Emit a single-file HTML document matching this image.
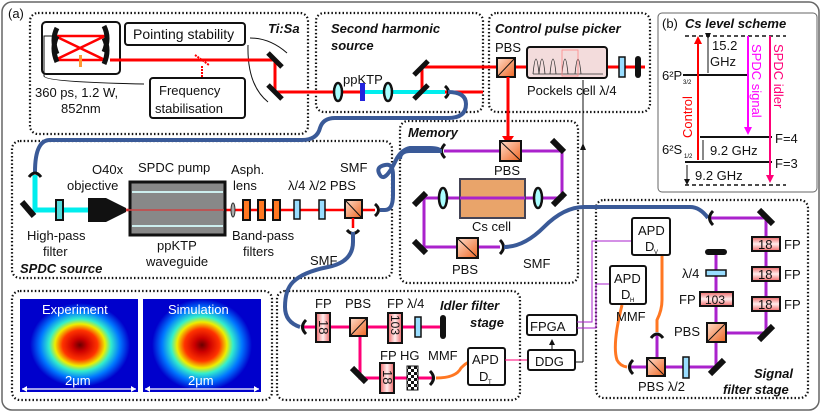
<!DOCTYPE html>
<html><head><meta charset="utf-8"><style>
body{margin:0;background:#fff}
svg{display:block;font-family:"Liberation Sans",sans-serif}
.t{font-size:13px;fill:#111}
.bi{font-size:13px;font-weight:bold;font-style:italic;fill:#111}
.dot{fill:none;stroke:#111;stroke-width:2.2;stroke-dasharray:1.5 2.2}
.box{fill:#fff;stroke:#111;stroke-width:2}
</style></head><body>
<svg width="822" height="413" viewBox="0 0 822 413" xmlns="http://www.w3.org/2000/svg">
<defs>
<radialGradient id="hm" cx="50%" cy="50%" r="50%">
<stop offset="0" stop-color="#6a0000"/><stop offset="0.15" stop-color="#c00"/><stop offset="0.35" stop-color="#f30"/><stop offset="0.5" stop-color="#ee0"/><stop offset="0.62" stop-color="#3ec"/><stop offset="0.8" stop-color="#07f"/><stop offset="1" stop-color="#00c"/>
</radialGradient>
<linearGradient id="or" x1="0" y1="0" x2="1" y2="1"><stop offset="0" stop-color="#fdc"/><stop offset="1" stop-color="#e62"/></linearGradient>
<linearGradient id="fp" x1="0" y1="0" x2="0" y2="1"><stop offset="0" stop-color="#e66"/><stop offset="0.5" stop-color="#fee"/><stop offset="1" stop-color="#e66"/></linearGradient>
<linearGradient id="fpv" x1="0" y1="0" x2="1" y2="0"><stop offset="0" stop-color="#e66"/><stop offset="0.5" stop-color="#fee"/><stop offset="1" stop-color="#e66"/></linearGradient>
<pattern id="chk" width="6" height="6" patternUnits="userSpaceOnUse"><rect width="6" height="6" fill="#fff"/><rect width="3" height="3" fill="#111"/><rect x="3" y="3" width="3" height="3" fill="#111"/></pattern>
<marker id="ar" markerWidth="6" markerHeight="6" refX="5" refY="3" orient="auto"><path d="M0,0L6,3L0,6z" fill="#111"/></marker>
</defs>
<rect x="2" y="2" width="817" height="408" rx="10" fill="#fff" stroke="#666" stroke-width="1.5"/>
<text x="8" y="18" class="t">(a)</text>

<!-- dotted boxes -->
<rect x="30" y="13" width="278" height="121" rx="8" class="dot"/>
<rect x="316" y="13" width="167" height="99" rx="8" class="dot"/>
<rect x="489" y="13" width="161" height="99" rx="8" class="dot"/>
<rect x="12" y="141" width="380" height="137" rx="8" class="dot"/>
<rect x="400" y="121" width="178" height="162" rx="8" class="dot"/>
<rect x="596" y="200" width="212" height="198" rx="8" class="dot"/>
<rect x="277" y="291" width="243" height="109" rx="8" class="dot"/>
<rect x="12" y="291" width="260" height="109" rx="8" class="dot"/>

<!-- Ti:Sa -->
<rect x="42" y="22" width="78" height="52" rx="4" class="box"/>
<path d="M55,36H105M55,60H105M55,36L105,60M55,60L105,36" stroke="#f00" stroke-width="2.5" fill="none"/>
<rect x="79" y="55" width="3" height="12" fill="#f93"/>
<path d="M57,28q-6,12 0,26M57,36q-6,12 0,26M104,26q6,12 0,26M104,38q6,12 0,26" stroke="#111" stroke-width="5" fill="none"/>
<rect x="125" y="23" width="120" height="22" rx="3" class="box"/>
<text x="133" y="39" class="t" style="font-size:14px">Pointing stability</text>
<rect x="150" y="78" width="95" height="40" rx="3" class="box"/>
<text x="159" y="95" class="t">Frequency</text><text x="155" y="113" class="t">stabilisation</text>
<text x="35" y="97" class="t">360 ps, 1.2 W,</text><text x="61" y="113" class="t">852nm</text>
<text x="268" y="33" class="bi">Ti:Sa</text>
<path d="M54,36h-10v40q0,6 100,8M250,38q20,0 37,15M248,45q-1,40 20,57" stroke="#111" fill="none" stroke-width="1"/>
<path d="M110,60H275V92H483" stroke="#f00" stroke-width="3" fill="none"/>
<path d="M195,55l14,10M202,66v12" stroke="#f00" stroke-width="2" stroke-dasharray="2 1" fill="none"/>
<g stroke="#111" stroke-width="5"><path d="M268,53l14,14M268,85l14,14"/></g>

<!-- SH -->
<text x="331" y="33" class="bi">Second harmonic</text><text x="331" y="50" class="bi">source</text>
<text x="343" y="84" class="t">ppKTP</text>
<path d="M365,92H445" stroke="#0ee" stroke-width="4"/>
<ellipse cx="338" cy="92" rx="4" ry="9" fill="#aff" stroke="#111" stroke-width="2.5"/>
<ellipse cx="388" cy="92" rx="4" ry="9" fill="#aff" stroke="#111" stroke-width="2.5"/>
<rect x="360" y="83" width="5" height="18" fill="#22d"/>
<path d="M422,92V67H507" stroke="#f00" stroke-width="3" fill="none"/>
<g stroke="#111" stroke-width="5"><path d="M414,75l14,-14M414,99l14,-14"/></g>
<path d="M445,86q7,6 0,12" stroke="#111" stroke-width="3" fill="none"/>
<path d="M448,92q18,0 18,12q0,14 -18,14H335q-12,0 -15,10q-3,12 -18,12H50q-15,0 -15,32" stroke="#3a5a98" stroke-width="4" fill="none"/>

<!-- Control pulse picker -->
<text x="495" y="33" class="bi">Control pulse picker</text>
<text x="495" y="52" class="t">PBS</text>
<path d="M515,67H645" stroke="#f00" stroke-width="3"/>
<rect x="497" y="58" width="18" height="19" fill="url(#or)" stroke="#111" stroke-width="2"/><path d="M497,77L515,58" stroke="#111"/>
<rect x="527" y="47" width="80" height="31" rx="3" fill="#f3dcdc" stroke="#111" stroke-width="2"/>
<path d="M533,74q3,-30 6,0q3,-30 6,0M550,74q3,-30 6,0M562,74q3,-30 6,0M575,74q3,-30 6,0M533,74H603" stroke="#333" fill="none" stroke-width="0.8"/>
<rect x="562" y="50" width="16" height="26" fill="none" stroke="#f88" stroke-width="0.8"/>
<text x="527" y="95" class="t">Pockels cell λ/4</text>
<rect x="619" y="57" width="6" height="20" fill="#9df" stroke="#111" stroke-width="1.5"/>
<rect x="635" y="56" width="6" height="22" rx="3" fill="#111"/>
<path d="M508,77V140" stroke="#f00" stroke-width="3"/><path d="M502,136h12l-6,9z" fill="#f00"/>
<path d="M583,362V80" stroke="#111" stroke-width="1"/>
<path d="M580,150l3,-7l3,7z" fill="#111"/>

<!-- (b) -->
<rect x="658" y="13" width="159" height="179" rx="4" fill="none" stroke="#666"/>
<text x="662" y="28" class="t">(b)</text><text x="685" y="28" class="bi">Cs level scheme</text>
<path d="M685,36H786M685,185H786" stroke="#111" stroke-width="1.5" stroke-dasharray="4 3"/>
<path d="M683,75H748M700,137H772M685,162H772" stroke="#111" stroke-width="2"/>
<text x="662" y="80" class="t">6²P</text><text x="683" y="84" style="font-size:6px">3/2</text>
<text x="662" y="154" class="t">6²S</text><text x="684" y="158" style="font-size:6px">1/2</text>
<text x="775" y="143" class="t">F=4</text><text x="775" y="168" class="t">F=3</text>
<text x="712" y="50" class="t">15.2</text><text x="710" y="66" class="t">GHz</text>
<text x="710" y="155" class="t">9.2 GHz</text><text x="695" y="180" class="t">9.2 GHz</text>
<path d="M708,38V73M703,140V160M687,165V184" stroke="#111" fill="none" marker-end="url(#ar)" marker-start="url(#ar)" stroke-width="1"/>
<path d="M698,160V42" stroke="#f00" stroke-width="2"/><path d="M694,44l4,-8l4,8z" fill="#f00"/>
<path d="M748,36V128" stroke="#f0f" stroke-width="2"/><path d="M744,127l4,8l4,-8z" fill="#f0f"/>
<path d="M770,36V176" stroke="#f07" stroke-width="2"/><path d="M766,175l4,8l4,-8z" fill="#f07"/>
<text transform="translate(692,138) rotate(-90)" style="font-size:13px;fill:#f00">Control</text>
<text transform="translate(752,44) rotate(90)" style="font-size:13px;fill:#f0f">SPDC signal</text>
<text transform="translate(774,44) rotate(90)" style="font-size:13px;fill:#f07">SPDC idler</text>

<!-- SPDC source -->
<path d="M35,175V210H90" stroke="#0ee" stroke-width="5" fill="none"/>
<path d="M29,177q6,-8 12,0" stroke="#111" stroke-width="3" fill="none"/>
<path d="M22,202l12,14" stroke="#111" stroke-width="6"/>
<rect x="56" y="200" width="7" height="20" fill="#5dd" stroke="#111" stroke-width="2"/>
<path d="M88,198h18l20,10v4l-20,10h-18z" fill="#111"/>
<path d="M126,210H375" stroke="#f00" stroke-width="2.5"/>
<rect x="130" y="182" width="95" height="53" fill="#888" stroke="#111" stroke-width="3"/>
<path d="M132,192H223M132,226H223" stroke="#cee" stroke-width="2"/>
<path d="M126,210H224" stroke="#c44" stroke-width="1.5"/>
<ellipse cx="233" cy="210" rx="2" ry="7" fill="#aaa" stroke="#333"/>
<g fill="#f72" stroke="#111" stroke-width="2"><rect x="243" y="200" width="7" height="20"/><rect x="258" y="200" width="7" height="20"/><rect x="273" y="200" width="7" height="20"/></g>
<rect x="294" y="200" width="6" height="19" fill="#9df" stroke="#111" stroke-width="1.5"/>
<rect x="319" y="200" width="6" height="19" fill="#9df" stroke="#111" stroke-width="1.5"/>
<rect x="345" y="200" width="17" height="18" fill="url(#or)" stroke="#111" stroke-width="2"/><path d="M345,200L362,218" stroke="#111"/>
<path d="M353,218V228" stroke="#f00" stroke-width="2.5"/>
<path d="M375,204q7,6 0,12M347,230q6,7 12,0" stroke="#111" stroke-width="3" fill="none"/>
<path d="M380,210h5q8,0 8,-15v-20q0,-12 -8,-10q-10,2 -5,10q5,8 16,-15q5,-10 14,-12H430q10,0 10,3" stroke="#3a5a98" stroke-width="4" fill="none"/>
<path d="M353,232v10q0,20 -25,25q-25,5 -35,15q-8,8 -8,25q0,15 15,20" stroke="#3a5a98" stroke-width="4" fill="none"/>
<text x="138" y="172" class="t">SPDC pump</text>
<text x="92" y="174" class="t">O40x</text><text x="67" y="190" class="t">objective</text>
<text x="231" y="174" class="t">Asph.</text><text x="233" y="190" class="t">lens</text>
<text x="288" y="190" class="t">λ/4 λ/2 PBS</text>
<text x="340" y="172" class="t">SMF</text><text x="310" y="265" class="t">SMF</text>
<text x="27" y="240" class="t">High-pass</text><text x="43" y="256" class="t">filter</text>
<text x="157" y="250" class="t">ppKTP</text><text x="146" y="266" class="t">waveguide</text>
<text x="232" y="240" class="t">Band-pass</text><text x="243" y="256" class="t">filters</text>
<text x="20" y="273" class="bi">SPDC source</text>

<!-- Memory -->
<text x="408" y="137" class="bi">Memory</text>
<path d="M444,151H562V198H424V247H500" stroke="#a2c" stroke-width="3" fill="none"/>
<rect x="460" y="179" width="65" height="39" fill="#e9a46a" stroke="#445" stroke-width="2"/>
<path d="M460,198H525" stroke="#a2c" stroke-width="3"/>
<rect x="500" y="141" width="21" height="20" fill="url(#or)" stroke="#111" stroke-width="2"/><path d="M500,141L521,161" stroke="#111"/>
<rect x="457" y="238" width="21" height="20" fill="url(#or)" stroke="#111" stroke-width="2"/><path d="M457,238L478,258" stroke="#111"/>
<ellipse cx="443" cy="198" rx="4" ry="10" fill="#aff" stroke="#111" stroke-width="2.5"/>
<ellipse cx="538" cy="198" rx="4" ry="10" fill="#aff" stroke="#111" stroke-width="2.5"/>
<g stroke="#111" stroke-width="6"><path d="M552,140l12,12M553,205l12,-12M414,205l12,-12M414,241l12,12"/></g>
<path d="M445,144q-7,7 0,14M500,240q7,7 0,14" stroke="#111" stroke-width="3" fill="none"/>
<path d="M442,151H410q-10,0 -10,8" stroke="#3a5a98" stroke-width="4" fill="none"/>
<path d="M504,247q20,0 40,-20q20,-20 40,-20H690q10,0 18,11" stroke="#3a5a98" stroke-width="4" fill="none"/>
<text x="494" y="175" class="t">PBS</text><text x="472" y="231" class="t">Cs cell</text>
<text x="452" y="274" class="t">PBS</text><text x="523" y="268" class="t">SMF</text>

<!-- Idler stage -->
<path d="M303,327H442M360,327V378H432" stroke="#f07" stroke-width="3" fill="none"/>
<path d="M306,320q-7,7 0,14M430,371q7,7 0,14" stroke="#111" stroke-width="3" fill="none"/>
<rect x="316" y="313" width="14" height="29" fill="url(#fpv)" stroke="#111" stroke-width="2"/><text transform="translate(319,320) rotate(90)" class="t">18</text>
<rect x="350" y="318" width="17" height="18" fill="url(#or)" stroke="#111" stroke-width="2"/><path d="M350,336L367,318" stroke="#111"/>
<rect x="388" y="313" width="14" height="30" fill="url(#fpv)" stroke="#111" stroke-width="2"/><text transform="translate(391,315) rotate(90)" class="t" style="font-size:12px">103</text>
<rect x="415" y="317" width="6" height="20" fill="#9df" stroke="#111" stroke-width="1.5"/>
<rect x="440" y="315" width="6" height="24" rx="3" fill="#111"/>
<path d="M352,368l14,14" stroke="#111" stroke-width="6"/>
<rect x="380" y="363" width="14" height="30" fill="url(#fpv)" stroke="#111" stroke-width="2"/><text transform="translate(383,370) rotate(90)" class="t">18</text>
<rect x="407" y="366" width="11" height="24" fill="url(#chk)" stroke="#111"/>
<path d="M436,378q20,0 25,-10q5,-5 8,-6" stroke="#f72" stroke-width="3" fill="none"/>
<rect x="468" y="348" width="37" height="37" rx="2" class="box"/><text x="472" y="364" class="t">APD</text><text x="479" y="381" class="t">D</text><text x="488" y="384" style="font-size:6px">T</text>
<path d="M505,360H528" stroke="#f07" stroke-width="1"/>
<rect x="528" y="350" width="47" height="20" rx="2" class="box"/><text x="535" y="366" class="t">DDG</text>
<rect x="527" y="315" width="50" height="20" rx="2" class="box"/><text x="530" y="331" class="t">FPGA</text>
<path d="M552,350V340" stroke="#111" marker-end="url(#ar)"/>
<path d="M575,362H583" stroke="#111"/>
<text x="315" y="308" class="t">FP</text><text x="345" y="308" class="t">PBS</text><text x="387" y="308" class="t">FP λ/4</text>
<text x="380" y="360" class="t">FP HG</text><text x="428" y="360" class="t">MMF</text>
<text x="440" y="310" class="bi">Idler filter</text><text x="470" y="327" class="bi">stage</text>
<path d="M577,322H592V241H632M577,328H596V284H610" stroke="#a2c" stroke-width="1" fill="none"/>

<!-- Signal stage -->
<path d="M710,218H766V333H727M716,253V367H630" stroke="#a2c" stroke-width="3" fill="none"/>
<path d="M657,367V335" stroke="#a2c" stroke-width="3"/>
<path d="M713,211q-7,7 0,14M633,360q-7,7 0,14M651,338q6,-8 12,0" stroke="#111" stroke-width="3" fill="none"/>
<g stroke="#111" stroke-width="6"><path d="M759,210l14,14M759,340l14,-14M710,374l14,-14"/></g>
<rect x="705" y="249" width="22" height="6" rx="3" fill="#111"/>
<rect x="706" y="270" width="20" height="6" fill="#9df" stroke="#111" stroke-width="1.5"/>
<g fill="url(#fp)" stroke="#111" stroke-width="2"><rect x="700" y="292" width="33" height="14"/><rect x="752" y="237" width="28" height="14"/><rect x="752" y="267" width="28" height="14"/><rect x="752" y="297" width="28" height="14"/></g>
<text x="705" y="304" class="t" style="font-size:12px">103</text>
<text x="758" y="249" class="t">18</text><text x="758" y="279" class="t">18</text><text x="758" y="309" class="t">18</text>
<text x="784" y="249" class="t">FP</text><text x="784" y="279" class="t">FP</text><text x="784" y="309" class="t">FP</text>
<text x="682" y="278" class="t">λ/4</text><text x="679" y="304" class="t">FP</text><text x="674" y="336" class="t">PBS</text>
<rect x="707" y="323" width="19" height="19" fill="url(#or)" stroke="#111" stroke-width="2"/><path d="M707,342L726,323" stroke="#111"/>
<rect x="647" y="358" width="18" height="18" fill="url(#or)" stroke="#111" stroke-width="2"/><path d="M647,358L665,376" stroke="#111"/>
<rect x="683" y="357" width="6" height="21" fill="#9df" stroke="#111" stroke-width="1.5"/>
<path d="M662,255V300q0,10 -5,20v12M622,305q-10,40 -5,55q3,6 10,7" stroke="#f72" stroke-width="3" fill="none"/>
<rect x="632" y="218" width="38" height="37" rx="2" class="box"/><text x="638" y="235" class="t">APD</text><text x="645" y="251" class="t">D</text><text x="654" y="254" style="font-size:6px">V</text>
<rect x="610" y="266" width="36" height="38" rx="2" class="box"/><text x="614" y="283" class="t">APD</text><text x="621" y="299" class="t">D</text><text x="630" y="302" style="font-size:6px">H</text>
<text x="616" y="321" class="t">MMF</text>
<text x="638" y="391" class="t">PBS λ/2</text>
<text x="754" y="378" class="bi">Signal</text><text x="723" y="394" class="bi">filter stage</text>

<!-- heatmaps -->
<rect x="20" y="299" width="118" height="93" fill="#00c"/>
<ellipse cx="80" cy="345" rx="50" ry="42" fill="url(#hm)"/>
<rect x="143" y="299" width="118" height="93" fill="#00c"/>
<ellipse cx="202" cy="345" rx="50" ry="46" fill="url(#hm)"/>
<text x="42" y="314" style="font-size:13px;fill:#fff">Experiment</text>
<text x="168" y="314" style="font-size:13px;fill:#fff">Simulation</text>
<text x="65" y="385" style="font-size:13px;fill:#fff">2μm</text><text x="188" y="385" style="font-size:13px;fill:#fff">2μm</text>
<path d="M22,389H136M145,389H259" stroke="#fff" stroke-width="1.2"/>
<path d="M22,389l5,-3v6zM136,389l-5,-3v6zM145,389l5,-3v6zM259,389l-5,-3v6z" fill="#fff"/>
</svg>
</body></html>
